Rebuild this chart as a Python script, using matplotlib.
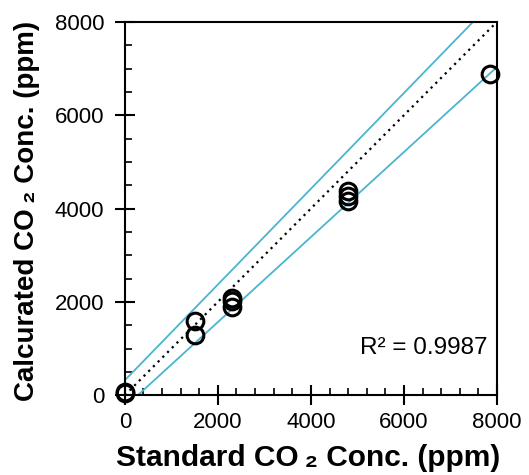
import numpy as np
import matplotlib
matplotlib.use("Agg")
import matplotlib.pyplot as plt
from matplotlib.ticker import MultipleLocator

plt.rcParams['font.family'] = ['Liberation Sans', 'DejaVu Sans']

# standard vs calculated CO2 concentration (ppm)
standard = [0, 0, 1500, 1500, 2300, 2300, 2300, 4800, 4800, 4800, 7850]
calculated = [40, 70, 1590, 1290, 2090, 2020, 1900, 4370, 4265, 4160, 6890]

# upper / lower bounds (intercept, slope) and 1:1 line
upper_line = (320, 1.026)
lower_line = (-255, 0.911)
r2_text = "R² = 0.9987"

fig = plt.figure(figsize=(5.29, 4.75), dpi=100)
ax = fig.add_axes([0.236, 0.168, 0.7035, 0.786])

xs = np.array([0, 8000])
ax.plot(xs, upper_line[0] + upper_line[1] * xs, color='#4ab5cf', lw=1.3)
ax.plot(xs, lower_line[0] + lower_line[1] * xs, color='#4ab5cf', lw=1.3)
ax.plot(xs, xs, color='black', lw=1.6, ls=(0, (1, 2)))

ax.plot(standard, calculated, 'o', mfc='none', mec='black', ms=12, mew=2.2,
        clip_on=False, zorder=5)

ax.set_xlim(0, 8000)
ax.set_ylim(0, 8000)
ax.xaxis.set_major_locator(MultipleLocator(2000))
ax.xaxis.set_minor_locator(MultipleLocator(400))
ax.yaxis.set_major_locator(MultipleLocator(2000))
ax.yaxis.set_minor_locator(MultipleLocator(500))
ax.tick_params(which='major', direction='inout', length=14, width=1.5,
               labelsize=16)
ax.tick_params(axis='x', which='major', pad=5)
ax.tick_params(axis='y', which='major', pad=8)
ax.tick_params(which='minor', direction='in', length=5, width=1.2)
for s in ax.spines.values():
    s.set_linewidth(1.5)

ax.set_xlabel("Standard CO\u2009₂ Conc. (ppm)", fontsize=21.5,
              fontweight='bold', va='center')
ax.set_ylabel("Calcurated CO\u2009₂ Conc. (ppm)", fontsize=20,
              fontweight='bold', va='center')
ax.xaxis.set_label_coords(0.493, -0.168)
ax.yaxis.set_label_coords(-0.263, 0.493)

ax.text(0.975, 0.126, r2_text, transform=ax.transAxes, ha='right',
        va='center', fontsize=17.5)

fig.savefig("out.png", dpi=100)
